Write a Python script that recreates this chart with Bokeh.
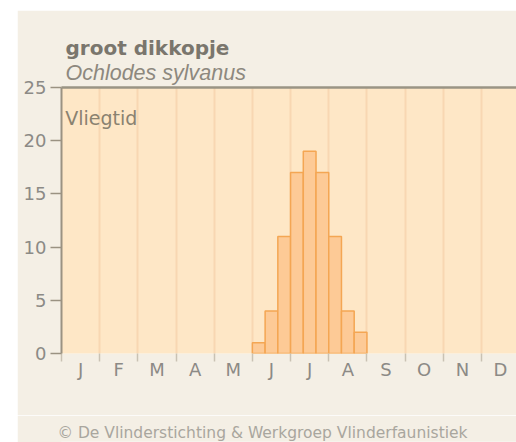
from bokeh.plotting import figure
from bokeh.models import Range1d, LinearAxis, FixedTicker, Label, Spacer, ColumnDataSource, Title
from bokeh.layouts import column, row
from bokeh.embed import file_html
from bokeh.resources import INLINE

# ---- data ----
months = ["J", "F", "M", "A", "M", "J", "J", "A", "S", "O", "N", "D"]
# counts per decade (3 per month: 1-10, 11-20, 21-end)
decade_counts = [0, 0, 0,  0, 0, 0,  0, 0, 0,  0, 0, 0,
                 0, 0, 0,  1, 4, 11, 17, 19, 17, 11, 4, 2,
                 0, 0, 0,  0, 0, 0,  0, 0, 0,  0, 0, 0]
y_ticks = [0, 5, 10, 15, 20, 25]
title_text = "groot dikkopje"
subtitle_text = "Ochlodes sylvanus"
inner_text = "Vliegtid"
footer_text = "\u00a9 De Vlinderstichting & Werkgroep Vlinderfaunistiek"

# ---- derived structure ----
month_centers = [i + 0.5 for i in range(len(months))]
month_bounds = [float(i) for i in range(len(months) + 1)]
bx = [(i + 0.5) / 3.0 for i, v in enumerate(decade_counts) if v > 0]
bt = [v for v in decade_counts if v > 0]
src = ColumnDataSource(dict(x=bx, top=bt))

BG = "#f4efe5"
p = figure(width=499, height=405, output_backend="svg", toolbar_location=None,
           x_range=Range1d(0, 11.918), y_range=Range1d(0, 25),
           min_border_left=44, min_border_right=0, min_border_top=77, min_border_bottom=62)
p.title.text = ""
p.title.visible = False
p.background_fill_color = "#fee7c6"
p.border_fill_color = BG
p.outline_line_color = None

# grid
p.ygrid.grid_line_color = None
p.xgrid.ticker = FixedTicker(ticks=month_bounds[1:])
p.xgrid.grid_line_color = "#f8d7b2"
p.xgrid.grid_line_width = 2

# bars
p.vbar(x="x", top="top", width=1.0 / 3.0, bottom=0, source=src,
       fill_color="#fdca96", line_color="#f4a653", line_width=1.5)

# left axis
ya = p.yaxis[0]
ya.ticker = FixedTicker(ticks=y_ticks)
ya.axis_line_color = "#9a9282"
ya.axis_line_width = 2
ya.major_tick_line_color = "#9a9282"
ya.major_tick_line_width = 1.5
ya.major_tick_out = 11
ya.major_tick_in = 0
ya.minor_tick_line_color = None
ya.major_label_text_color = "#8c8a86"
ya.major_label_text_font = "DejaVu Sans"
ya.major_label_text_font_size = "18px"
ya.major_label_standoff = 4

# bottom axis: month labels at centres, ticks at boundaries
xa = p.xaxis[0]
xa.ticker = FixedTicker(ticks=month_centers, minor_ticks=month_bounds)
xa.major_label_overrides = {c: m for c, m in zip(month_centers, months)}
xa.axis_line_color = None
xa.major_tick_line_color = None
xa.major_tick_out = 0
xa.minor_tick_line_color = "#c9c2b4"
xa.minor_tick_line_width = 1.5
xa.minor_tick_out = 8
xa.minor_tick_in = 0
xa.major_label_standoff = -3
xa.major_label_text_color = "#8c8a86"
xa.major_label_text_font = "DejaVu Sans"
xa.major_label_text_font_size = "18px"

# top border line
top_ax = LinearAxis(ticker=FixedTicker(ticks=[]), axis_line_color="#9a9484",
                    axis_line_width=2.5, major_label_text_font_size="0px",
                    major_label_standoff=0, major_tick_out=0, minor_tick_out=0,
                    major_tick_line_color=None, minor_tick_line_color=None)
p.add_layout(top_ax, "above")

# titles (closest to the plot first)
p.add_layout(Title(text=subtitle_text, align="left", offset=4, standoff=5,
                   text_font="Liberation Sans", text_font_style="italic",
                   text_font_size="21.5px", text_color="#8d887e"), "above")
p.add_layout(Title(text=title_text, align="left", offset=4, standoff=-7,
                   text_font="DejaVu Sans", text_font_style="bold",
                   text_font_size="20px", text_color="#7a766d"), "above")

p.add_layout(Label(x=0.10, y=22.18, text=inner_text, text_font="DejaVu Sans",
                   text_font_size="19px", text_color="#8a8270",
                   text_baseline="alphabetic"))

# footer strip (text carried by a title panel so it is not clipped)
f = figure(width=499, height=27, output_backend="svg", toolbar_location=None,
           x_range=Range1d(0, 1), y_range=Range1d(0, 1),
           x_axis_type=None, y_axis_type=None,
           min_border_left=0, min_border_right=0, min_border_top=26, min_border_bottom=0)
f.title.text = ""
f.title.visible = False
f.background_fill_color = BG
f.border_fill_color = BG
f.outline_line_color = None
f.xgrid.visible = False
f.ygrid.visible = False
f.add_layout(Title(text=footer_text, align="left", offset=-4, standoff=0,
                   vertical_align="bottom", text_font="DejaVu Sans",
                   text_font_style="normal", text_font_size="15.5px",
                   text_color="#a9a69e"), "above")

layout = column(Spacer(height=10, width=516),
                row(Spacer(width=17, height=432), column(p, f)))
open("out.html", "w").write(file_html(layout, INLINE))
